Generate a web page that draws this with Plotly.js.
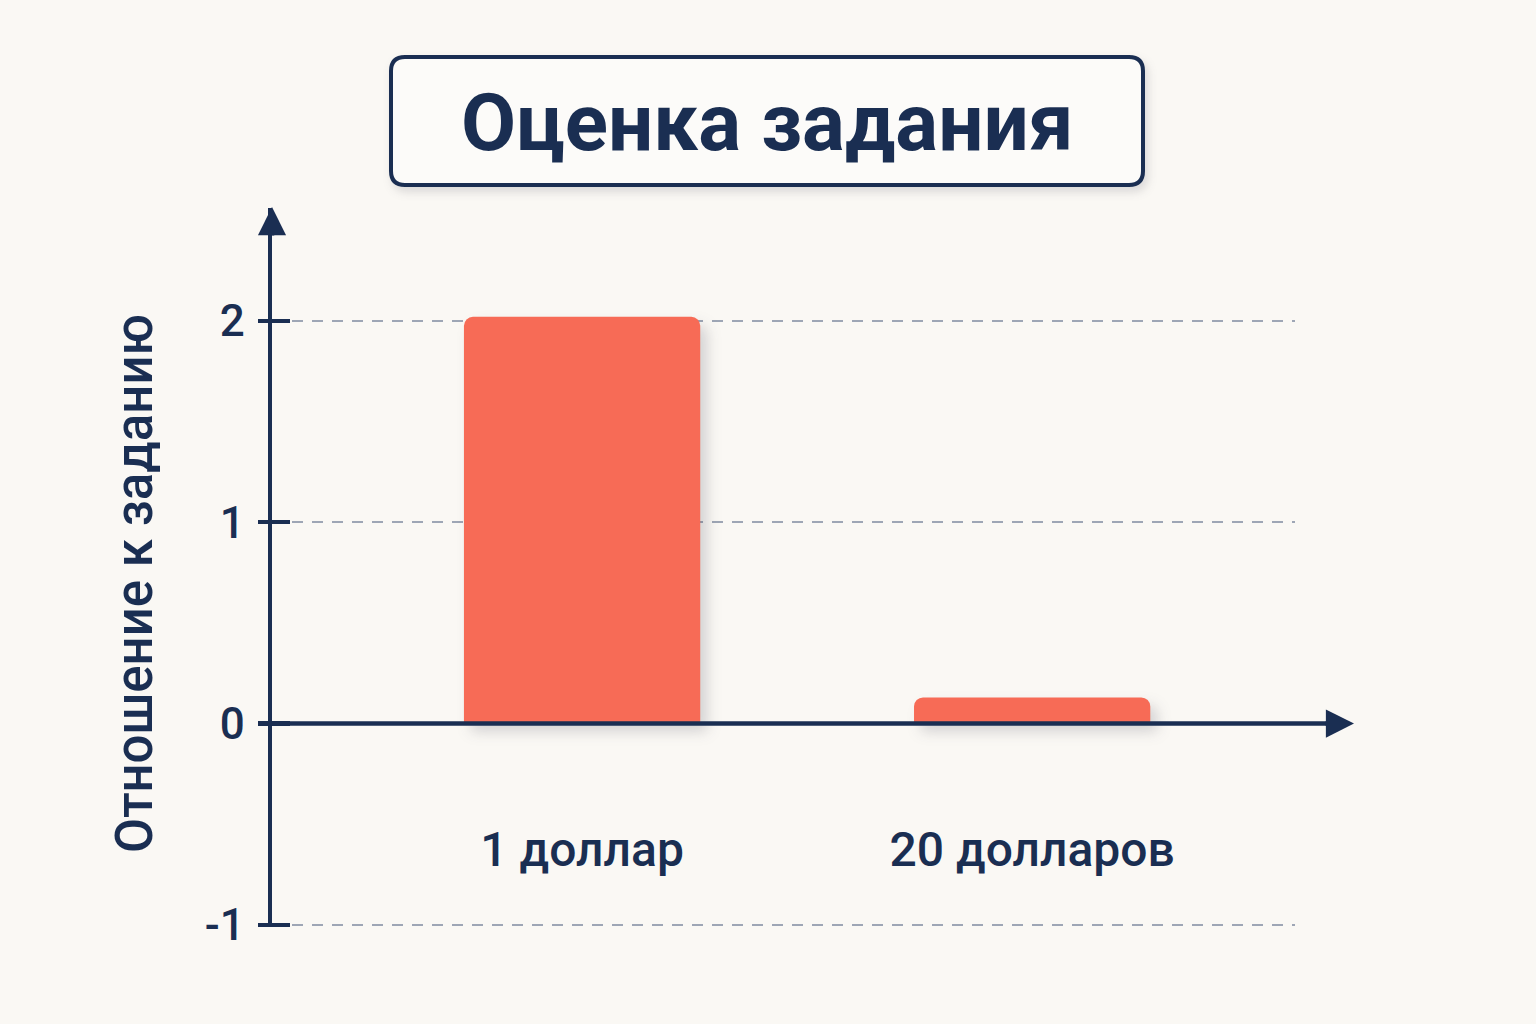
<!DOCTYPE html>
<html>
<head>
<meta charset="utf-8">
<script src="https://cdn.plot.ly/plotly-3.0.1.min.js"></script>
<style>
  html, body { margin: 0; padding: 0; background: #faf8f4; }
  #chart { width: 1536px; height: 1024px; }
  .trace.bars .point path { filter: drop-shadow(7px 8px 7px rgba(40, 40, 60, 0.18)); }
  .shapelayer path[data-index="0"] { filter: drop-shadow(3px 5px 5px rgba(40, 40, 60, 0.15)); }
</style>
</head>
<body>
<div id="chart"></div>
<script>
var categories = ["1 доллар", "20 долларов"];
var values = [2.02, 0.13];
var yTicks = [-1, 0, 1, 2];
var titleText = "Оценка задания";
var yTitle = "Отношение к заданию";

var navy = "#1a2e52";
var font = "Roboto, Liberation Sans, Arial, sans-serif";

// plot area in pixels
var L = 272, R = 1295, T = 208, B = 927;
var W = R - L, H = B - T;
function px(x) { return (x - L) / W; }
function py(y) { return (B - y) / H; }

// rounded box for the title (paper coords)
function roundBox(x0, y0, x1, y1, r)
{
	var rx = r / W, ry = r / H;
	var a = px(x0), b = px(x1), top = py(y0), bot = py(y1);
	return "M" + (a + rx) + "," + top +
		" L" + (b - rx) + "," + top +
		" Q" + b + "," + top + " " + b + "," + (top - ry) +
		" L" + b + "," + (bot + ry) +
		" Q" + b + "," + bot + " " + (b - rx) + "," + bot +
		" L" + (a + rx) + "," + bot +
		" Q" + a + "," + bot + " " + a + "," + (bot + ry) +
		" L" + a + "," + (top - ry) +
		" Q" + a + "," + top + " " + (a + rx) + "," + top + " Z";
}

var yRange = [-1.01, 2.56];

var trace = {
	type: "bar",
	x: categories,
	y: values,
	width: 0.525,
	marker: { color: "#f76b56", cornerradius: 9 },
	hoverinfo: "skip"
};

// empty trace so the second (inside-tick) axis gets drawn
var tickHolder = { type: "scatter", x: [], y: [], yaxis: "y2", hoverinfo: "skip" };

var layout = {
	width: 1536,
	height: 1024,
	paper_bgcolor: "#faf8f4",
	plot_bgcolor: "rgba(0,0,0,0)",
	showlegend: false,
	margin: { l: L, r: 1536 - R, t: T, b: 1024 - B },
	font: { family: font, color: navy },
	title: {
		text: titleText,
		font: { family: font, size: 80, weight: 700, color: navy },
		x: 0.4995, xanchor: "center",
		y: 1 - 122 / 1024, yanchor: "middle"
	},
	xaxis: {
		type: "category",
		range: [-0.689, 1.584],
		anchor: "free",
		position: py(817),
		showline: false,
		showgrid: false,
		zeroline: false,
		ticks: "",
		tickfont: { size: 48, weight: 500, color: navy, family: font }
	},
	yaxis: {
		range: yRange,
		tickvals: yTicks,
		ticktext: yTicks.map(String),
		showline: true,
		linecolor: navy,
		linewidth: 4.5,
		ticks: "outside",
		ticklen: 10,
		tickwidth: 4.5,
		tickcolor: navy,
		ticklabelstandoff: 4,
		tickfont: { size: 44, weight: 500, color: navy, family: font },
		showgrid: true,
		gridcolor: "#9ea6b5",
		gridwidth: 2.5,
		griddash: "11px,9px",
		zeroline: false
	},
	yaxis2: {
		overlaying: "y",
		anchor: "x",
		side: "left",
		range: yRange,
		tickvals: yTicks,
		showticklabels: false,
		ticks: "inside",
		ticklen: 18,
		tickwidth: 4.5,
		tickcolor: navy,
		showgrid: false,
		showline: false,
		zeroline: false
	},
	shapes: [
		{
			type: "path", xref: "paper", yref: "paper",
			path: roundBox(391, 57, 1143, 185, 14),
			line: { color: navy, width: 4 },
			fillcolor: "#fcfbf9",
			layer: "below"
		},
		{
			type: "line", xref: "paper", yref: "y",
			x0: px(262), x1: px(1342), y0: 0, y1: 0,
			line: { color: navy, width: 4.5 },
			layer: "above"
		}
	],
	annotations: [
		{
			xref: "paper", yref: "paper", x: px(134), y: py(584),
			text: yTitle, showarrow: false, textangle: -90,
			xanchor: "center", yanchor: "middle",
			font: { size: 51, weight: 500, color: navy, family: font }
		},
		{
			xref: "paper", yref: "y", x: px(1354), y: 0,
			ax: -30, ay: 0, text: "", showarrow: true,
			arrowhead: 2, arrowsize: 1.25, arrowwidth: 4.5, arrowcolor: navy
		},
		{
			xref: "paper", yref: "paper", x: 0, y: py(207),
			ax: 0, ay: 30, text: "", showarrow: true,
			arrowhead: 2, arrowsize: 1.25, arrowwidth: 4.5, arrowcolor: navy
		}
	]
};

Plotly.newPlot("chart", [trace, tickHolder], layout, { displayModeBar: false, staticPlot: true });
</script>
</body>
</html>
